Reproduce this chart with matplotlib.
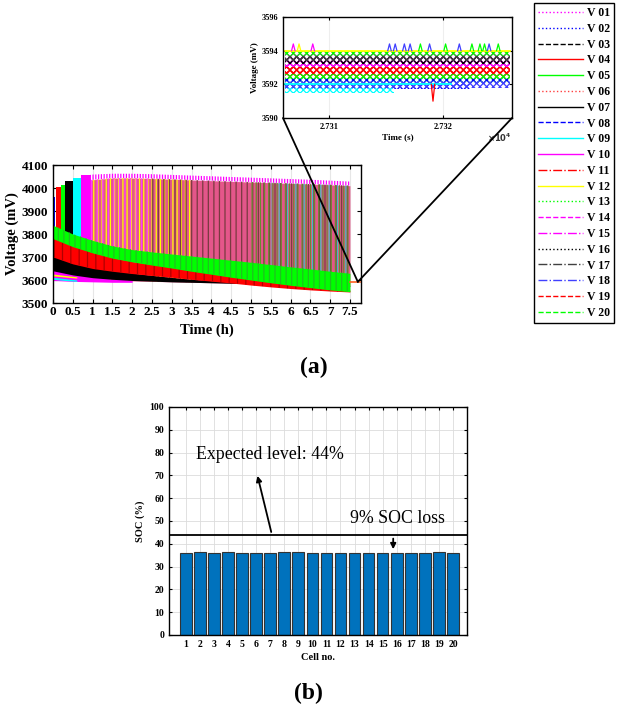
import numpy as np
import matplotlib
matplotlib.use('Agg')
import matplotlib.pyplot as plt
from matplotlib.patches import ConnectionPatch
from matplotlib.lines import Line2D

plt.rcParams['font.family'] = 'Liberation Serif'
plt.rcParams['font.weight'] = 'bold'
plt.rcParams['axes.labelweight'] = 'bold'
plt.rcParams['hatch.linewidth'] = 0.9

# ---- cells / legend styles (MATLAB colours) ----
cells = ['V %02d' % i for i in range(1, 21)]
colors = ['#ff00ff', '#0000ff', '#000000', '#ff0000', '#00ff00', '#ff4040', '#000000', '#0000ff', '#00ffff', '#ff00ff',
          '#ff0000', '#ffff00', '#00ff00', '#ff00ff', '#ff00ff', '#000000', '#404040', '#4040ff', '#ff0000', '#00ff00']
styles = [':', ':', '--', '-', '-', ':', '-', '--', '-', '-', '-.', '-', ':', '--', '-.', ':', '-.', '-.', '--', '--']

# ---- (a) voltage envelopes (mV) ----
t_h = [0, 0.5, 1, 1.5, 2, 2.5, 3, 3.5, 4, 4.5, 5, 5.5, 6, 6.5, 7, 7.5]
green_hi = [3838, 3800, 3772, 3748, 3732, 3722, 3713, 3704, 3695, 3686, 3677, 3667, 3657, 3648, 3638, 3629]
green_lo = [3780, 3745, 3718, 3695, 3679, 3665, 3652, 3638, 3625, 3612, 3600, 3588, 3577, 3567, 3557, 3549]
red_hi = [3788, 3750, 3720, 3698, 3680, 3668, 3656, 3644, 3632, 3620, 3608, 3596, 3585, 3575, 3565, 3556]
red_lo = [3700, 3670, 3650, 3638, 3628, 3620, 3612, 3603, 3595, 3587, 3578, 3570, 3563, 3557, 3552, 3548]
black_hi = [3705, 3683, 3664, 3645, 3630, 3620, 3611, 3603, 3597, 3592, 3588, 3585, 3582, 3580, 3578, 3576]
black_lo = [3640, 3622, 3610, 3603, 3598, 3595, 3592, 3590, 3588, 3586, 3584, 3582, 3580, 3578, 3576, 3574]
mag_hi = [3655, 3630, 3614, 3604, 3600]
mag_lo = [3598, 3594, 3592, 3590, 3590]

# thin early traces under the magenta band
early_t = [0, 0.3, 0.6]
yellow_hi = [3626, 3620, 3614]
yellow_lo = [3618, 3613, 3608]
cyan_hi = [3612, 3606, 3600]
cyan_lo = [3603, 3598, 3594]

# first balancing bursts: start, end, peak, colour
burst_t0 = [0.0, 0.07, 0.2, 0.3, 0.5, 0.7]
burst_t1 = [0.05, 0.2, 0.3, 0.5, 0.7, 0.95]
burst_top = [3960, 4003, 4012, 4030, 4042, 4058]
burst_col = ['#0000ff', '#ff0000', '#00ff00', '#000000', '#00ffff', '#ff00ff']

# main oscillation block
t_blk = [0.95, 1.5, 2, 2.5, 3, 3.5, 4, 4.5, 5, 5.5, 6, 6.5, 7, 7.5]
blk_peak = [4058, 4062, 4062, 4060, 4057, 4054, 4051, 4048, 4045, 4042, 4039, 4036, 4032, 4028]
blk_top = [4035, 4043, 4043, 4041, 4038, 4035, 4032, 4029, 4026, 4023, 4020, 4017, 4014, 4010]
blk_floor = [3600, 3598, 3596, 3594, 3592, 3590, 3588, 3586, 3584, 3582, 3580, 3578, 3576, 3574]

tail_t = [7.5, 7.75]
tail_v = [3592, 3592]

# ---- inset (zoom at ~2.7316e4 s) ----
inset_t0 = 27306.2
inset_end = [27325.8, 27322.3, 27325.8, 27325.8, 27325.8, 27325.8, 27325.8, 27325.8, 27315.7, 27325.8,
             27325.8, 27325.8, 27325.8, 27325.8, 27325.8, 27325.8, 27325.8, 27325.8, 27325.8, 27325.8]
inset_lo = [3593.6, 3591.7, 3592.9, 3592.5, 3592.1, 3592.6, 3593.3, 3592.0, 3591.5, 3593.4,
            3592.7, 3593.8, 3593.7, 3593.1, 3593.0, 3593.2, 3593.4, 3591.8, 3592.4, 3592.3]
inset_hi = [3594.0, 3592.0, 3593.3, 3593.0, 3592.5, 3593.0, 3593.7, 3592.4, 3592.0, 3593.8,
            3593.1, 3594.0, 3594.0, 3593.5, 3593.4, 3593.6, 3593.7, 3592.2, 3592.8, 3592.6]
spike_t = [27306.9, 27307.4, 27308.6, 27315.3, 27315.8, 27316.6, 27317.1, 27318.0, 27318.8,
           27320.2, 27321.4, 27322.5, 27323.2, 27323.6, 27324.0, 27324.8, 27319.1]
spike_v = [3594.4, 3594.4, 3594.4, 3594.4, 3594.4, 3594.4, 3594.4, 3594.4, 3594.4,
           3594.4, 3594.4, 3594.4, 3594.4, 3594.4, 3594.4, 3594.4, 3591.0]
spike_base = [3594.0] * 16 + [3592.0]
spike_c = ['#ff00ff', '#ffff00', '#ff00ff', '#4040ff', '#4040ff', '#4040ff', '#4040ff', '#00ff00', '#4040ff',
           '#00ff00', '#4040ff', '#00ff00', '#00ff00', '#00ff00', '#4040ff', '#00ff00', '#ff0000']
cyan_line_t = [27306.2, 27320.7]
cyan_line_v = [3592.0, 3592.0]

# ---- (b) SOC per cell ----
cell_no = list(range(1, 21))
soc = [35.8, 36.2, 35.9, 36.2, 35.8, 35.9, 35.9, 36.2, 36.2, 36.1,
       36.0, 35.9, 36.1, 36.1, 36.1, 35.9, 35.8, 35.9, 36.2, 36.1]
expected = 44

W, H = 618, 711
fig = plt.figure(figsize=(W / 100, H / 100), dpi=100)


def box(l, t, r, b):
    return [l / W, 1 - b / H, (r - l) / W, (b - t) / H]


def style_ax(ax, size):
    ax.tick_params(direction='in', top=True, right=True, labelsize=size, length=3, width=0.8)
    for s in ax.spines.values():
        s.set_linewidth(1.0)


# ---------------- (a) main ----------------
ax = fig.add_axes(box(53, 165, 361, 303))
for a, b, v, c in zip(burst_t0, burst_t1, burst_top, burst_col):
    ax.fill_between([a, b], 3600, v, color=c, lw=0)

tb = np.array(t_blk)
ax.fill_between(t_blk, blk_floor, blk_top, color='#e4568a', lw=0)
ax.fill_between(t_blk, blk_floor, blk_top, where=tb <= 3.5, facecolor='none', edgecolor='#ffff00', hatch='||||', lw=0)
ax.fill_between(t_blk, blk_floor, blk_top, where=tb <= 2.5, facecolor='none', edgecolor='#ff40ff', hatch='|||', lw=0)
ax.fill_between(t_blk, blk_floor, blk_top, where=tb >= 2.5, facecolor='none', edgecolor='#7a3a40', hatch='|||', lw=0)
ax.fill_between(t_blk, blk_floor, blk_top, where=tb >= 5.0, facecolor='none', edgecolor='#6a8a30', hatch='||||', lw=0)
ax.fill_between(t_blk, blk_floor, blk_top, where=tb >= 5.5, facecolor='none', edgecolor='#40c0c0', hatch='||', lw=0)
ax.fill_between(t_blk, blk_top, blk_peak, facecolor='none', edgecolor='#ff00ff', hatch='||||||', lw=0)

ax.fill_between(t_h[:5], mag_lo, mag_hi, color='#ff00ff', lw=0)
ax.fill_between(early_t, yellow_lo, yellow_hi, color='#ffff00', lw=0)
ax.fill_between(early_t, cyan_lo, cyan_hi, color='#00ffff', lw=0)
ax.fill_between(t_h, black_lo, black_hi, color='#000000', lw=0)
ax.fill_between(t_h, red_lo, red_hi, color='#ff0000', lw=0)
ax.fill_between(t_h, red_lo, red_hi, facecolor='none', edgecolor='#b00000', hatch='||', lw=0)
ax.fill_between(t_h, green_lo, green_hi, color='#00ff00', lw=0)
ax.fill_between(t_h, green_lo, green_hi, facecolor='none', edgecolor='#20c020', hatch='|||', lw=0)
ax.plot(tail_t, tail_v, color='#ff6020', lw=1.2)

ax.set_xlim(0, 7.78)
ax.set_ylim(3500, 4100)
ax.set_xticks(np.arange(0, 7.6, 0.5))
ax.set_xticklabels(['0', '0.5', '1', '1.5', '2', '2.5', '3', '3.5', '4', '4.5', '5', '5.5', '6', '6.5', '7', '7.5'])
ax.set_yticks(range(3500, 4101, 100))
ax.grid(axis='x', color='#e6e6e6', lw=0.8)
ax.set_axisbelow(True)
style_ax(ax, 9.5)
ax.tick_params(axis='x', pad=2)
ax.set_xlabel('Time (h)', fontsize=10.5, labelpad=4)
ax.set_ylabel('Voltage (mV)', fontsize=10.5, labelpad=1.5)

# ---------------- (a) inset ----------------
axi = fig.add_axes(box(283, 17, 512, 118))
for i in range(20):
    axi.fill_between([inset_t0, inset_end[i]], inset_lo[i], inset_hi[i],
                     facecolor='none', edgecolor=colors[i], hatch='xxxxx', lw=0)
axi.plot(cyan_line_t, cyan_line_v, color='#00ffff', lw=1.3)
axi.plot([inset_t0, inset_end[11]], [3594.0, 3594.0], color='#ffff00', lw=1.3)
for t, v, b, c in zip(spike_t, spike_v, spike_base, spike_c):
    axi.plot([t - 0.15, t, t + 0.15], [b, v, b], color=c, lw=0.9)
axi.set_xlim(27306, 27326)
axi.set_ylim(3590, 3596)
axi.set_xticks([27310, 27320])
axi.set_xticklabels(['2.731', '2.732'])
axi.set_yticks([3590, 3592, 3594, 3596])
axi.grid(axis='x', color='#eeeeee', lw=0.8)
axi.set_axisbelow(True)
style_ax(axi, 6)
axi.tick_params(length=2)
axi.set_xlabel('Time (s)', fontsize=6.5, labelpad=2)
axi.set_ylabel('Voltage (mV)', fontsize=6.5, labelpad=2)
axi.text(1.0, -0.13, r'$\times10^4$', transform=axi.transAxes, ha='right', va='top', fontsize=6, color='#333333')

for corner in [(0, 0), (1, 0)]:
    con = ConnectionPatch(xyA=corner, coordsA=axi.transAxes, xyB=(7.7, 3592), coordsB=ax.transData,
                          color='black', lw=1.3)
    fig.add_artist(con)

handles = [Line2D([], [], color=c, ls=s, lw=1.0) for c, s in zip(colors, styles)]
fig.legend(handles, cells, loc='upper left', bbox_to_anchor=(534 / W, 1 - 3 / H), fontsize=8.5,
           frameon=True, fancybox=False, edgecolor='black', framealpha=1, borderpad=0.35,
           labelspacing=0.32, handlelength=3.8, handletextpad=0.3, borderaxespad=0)

fig.text(314 / W, 1 - 367 / H, '(a)', fontsize=17, ha='center', va='center')

# ---------------- (b) ----------------
axb = fig.add_axes(box(169, 407, 467, 635))
axb.bar(cell_no, soc, width=0.83, color='#0072bd', edgecolor='#333333', lw=0.8, zorder=2)
axb.axhline(expected, color='black', lw=1.3, zorder=3)
axb.set_xlim(-0.2, 21)
axb.set_ylim(0, 100)
axb.set_xticks(cell_no)
axb.set_yticks(range(0, 101, 10))
axb.grid(True, color='#dcdcdc', lw=0.6)
axb.set_axisbelow(True)
style_ax(axb, 7)
axb.tick_params(length=2.5)
axb.set_xlabel('Cell no.', fontsize=7.5, labelpad=3)
axb.set_ylabel('SOC (%)', fontsize=7.5, labelpad=3)
axb.annotate('', xy=(6.05, 71), xytext=(7.12, expected),
             arrowprops=dict(arrowstyle='-|>', color='black', lw=1.3, mutation_scale=8))
axb.text(1.75, 79, 'Expected level: 44%', fontsize=12.8, fontweight='normal', va='center')
axb.annotate('', xy=(15.75, 36.4), xytext=(15.75, 43.5),
             arrowprops=dict(arrowstyle='-|>', color='black', lw=1.3, mutation_scale=8))
axb.text(12.65, 51.3, '9% SOC loss', fontsize=12.8, fontweight='normal', va='center')

fig.text(308 / W, 1 - 693 / H, '(b)', fontsize=17, ha='center', va='center')

fig.savefig('out.png', dpi=100)
